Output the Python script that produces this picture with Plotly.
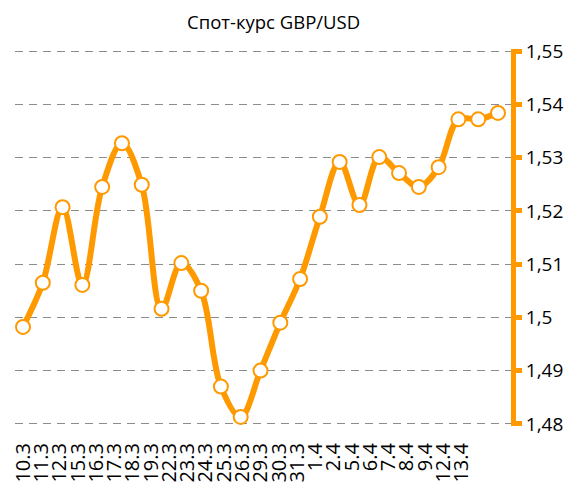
"""Spot GBP/USD rate, smoothed line with hollow markers and a right-hand axis."""
import plotly.graph_objects as go

ORANGE = "#FF9900"
GRID = "#8c8c8c"
FONT = "Open Sans"

dates = [
    "10.3", "11.3", "12.3", "15.3", "16.3", "17.3", "18.3", "19.3", "22.3",
    "23.3", "24.3", "25.3", "26.3", "29.3", "30.3", "31.3", "1.4", "2.4",
    "5.4", "6.4", "7.4", "8.4", "9.4", "12.4", "13.4",
]
rates = [
    1.4982, 1.5065, 1.5207, 1.5061, 1.5245, 1.5327, 1.5249, 1.5016, 1.5102,
    1.5050, 1.4870, 1.4813, 1.4900, 1.4990, 1.5072, 1.5189, 1.5292, 1.5211,
    1.5301, 1.5271, 1.5245, 1.5282, 1.5372, 1.5372, 1.5384,
]
y_ticks = [1.48, 1.49, 1.50, 1.51, 1.52, 1.53, 1.54, 1.55]
y_tick_labels = ["1,48", "1,49", "1,5", "1,51", "1,52", "1,53", "1,54", "1,55"]

idx = list(range(len(rates)))

fig = go.Figure()

# the rate itself, on the plain index axis
fig.add_trace(
    go.Scatter(
        x=idx,
        y=rates,
        mode="lines+markers",
        line={"color": ORANGE, "width": 6, "shape": "spline", "smoothing": 1},
        marker={"size": 14, "color": "white", "line": {"color": ORANGE, "width": 2}},
        hoverinfo="skip",
        showlegend=False,
    )
)
# invisible carrier for the date labels (they sit on a tighter spacing)
fig.add_trace(
    go.Scatter(
        x=idx,
        y=rates,
        xaxis="x2",
        mode="markers",
        marker={"opacity": 0},
        hoverinfo="skip",
        showlegend=False,
    )
)

fig.update_layout(
    width=567,
    height=484,
    margin={"l": 15, "r": 56, "t": 49, "b": 58},
    paper_bgcolor="white",
    plot_bgcolor="white",
    font={"family": FONT, "size": 18, "color": "#000000"},
    annotations=[
        {
            "text": "Спот-курс GBP/USD",
            "xref": "paper",
            "yref": "paper",
            "x": 0.522,
            "y": 1.0,
            "yshift": 28,
            "yanchor": "middle",
            "showarrow": False,
            "font": {"family": FONT, "size": 18.5, "color": "#000000"},
        }
    ],
    xaxis={
        "range": [-0.404, 24.657],
        "visible": False,
        "automargin": False,
    },
    xaxis2={
        "overlaying": "x",
        "anchor": "y",
        "side": "bottom",
        "range": [-0.454, 26.70],
        "tickmode": "array",
        "tickvals": idx,
        "ticktext": dates,
        "tickangle": -90,
        "showgrid": False,
        "showline": False,
        "zeroline": False,
        "ticks": "",
        "ticklabelstandoff": 12,
        "tickfont": {"family": FONT, "size": 20, "color": "#000000"},
        "automargin": False,
    },
    yaxis={
        "side": "right",
        # a hair of padding so plotly keeps the end gridlines
        "range": [1.4796, 1.5504],
        "tickmode": "array",
        "tickvals": y_ticks,
        "ticktext": y_tick_labels,
        "showline": True,
        "linecolor": ORANGE,
        "linewidth": 5,
        "ticks": "outside",
        "ticklen": 6,
        "tickwidth": 5,
        "tickcolor": ORANGE,
        "ticklabelstandoff": 0,
        "showgrid": True,
        "gridcolor": GRID,
        "gridwidth": 1,
        "griddash": "8px,6px",
        "zeroline": False,
        "tickfont": {"family": FONT, "size": 19, "color": "#000000"},
        "automargin": False,
    },
)

# the page body has an 8px default margin; drop it so the figure fills the window
fig.write_html(
    "out.html",
    config={"displayModeBar": False},
    post_script="document.body.style.margin='0';",
)
